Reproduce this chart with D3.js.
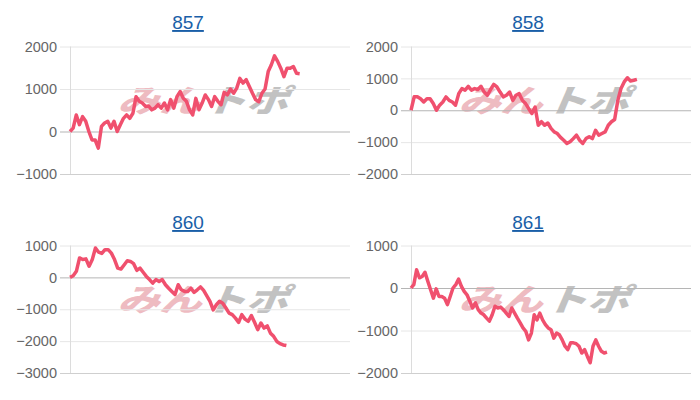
<!DOCTYPE html>
<html>
<head>
<meta charset="utf-8">
<script src="https://cdn.jsdelivr.net/npm/d3@7"></script>
<style>
  body { margin: 0; background: #fff; }
  svg { display: block; font-family: "Liberation Sans", Arial, sans-serif; }
</style>
</head>
<body>
<svg id="canvas" width="700" height="400"></svg>
<script>
"use strict";

const titles = ["857", "858", "860", "861"];

const data857 = [0,80,390,160,350,240,0,-200,-200,-390,
  120,200,240,80,240,0,160,310,390,310,
  430,820,710,670,590,600,510,550,630,550,
  670,510,750,550,820,940,780,710,510,390,
  780,510,670,860,750,590,820,710,630,920,
  860,1000,900,1020,1250,1140,1220,1060,900,750,
  700,900,1000,1410,1570,1780,1650,1490,1290,1490,
  1490,1530,1370,1360];

const data858 = [0,420,420,360,260,360,360,210,0,160,
  260,420,310,260,160,520,680,630,750,630,
  680,650,750,570,470,650,810,730,570,420,
  470,570,310,470,520,310,210,50,-100,100,
  -470,-360,-470,-400,-570,-680,-730,-850,-940,-1040,
  -990,-890,-780,-940,-1040,-890,-830,-890,-630,-780,
  -730,-680,-470,-360,-290,310,680,890,1020,920,
  940,970];

const data860 = [0,50,190,610,560,580,350,560,920,790,
  750,870,870,760,560,290,260,390,520,500,
  430,220,290,160,30,-70,-180,-70,-130,-70,
  -230,-340,-440,-540,-230,-390,-440,-440,-340,-470,
  -390,-300,-410,-580,-750,-1020,-860,-750,-810,-960,
  -1120,-1170,-1280,-1410,-1170,-1310,-1380,-1200,-1410,-1640,
  -1430,-1590,-1520,-1750,-1850,-2010,-2080,-2120,-2140];

const data861 = [0,80,430,240,270,370,160,-40,-240,-20,
  -200,-200,-240,-390,-200,0,80,210,40,-80,
  -160,-310,-470,-350,-510,-590,-630,-710,-780,-630,
  -430,-470,-450,-510,-590,-670,-470,-590,-710,-820,
  -940,-1020,-1220,-1060,-630,-750,-590,-750,-860,-940,
  -980,-1180,-1060,-1100,-1220,-1370,-1450,-1290,-1290,-1310,
  -1370,-1530,-1450,-1610,-1760,-1370,-1220,-1370,-1490,-1530,
  -1510];

// hidden x axis length (number of slots) for each chart
const xSlots = [89, 88, 88, 100];
const yMins = [-1000, -2000, -3000, -2000];
const yMaxs = [2000, 2000, 1000, 1000];

const series = [data857, data858, data860, data861];

const svg = d3.select("#canvas");

const panels = [
  { left: 70, top: 46.5, titleX: 188, titleY: 29 },
  { left: 411, top: 46.5, titleX: 528, titleY: 29 },
  { left: 70, top: 245.5, titleX: 188, titleY: 229 },
  { left: 411, top: 245.5, titleX: 528, titleY: 229 }
];
const plotW = 280, plotH = 127.5;

panels.forEach((p, i) => {
  const g = svg.append("g").attr("transform", `translate(${p.left},${p.top})`);

  const x = d3.scaleLinear().domain([0, xSlots[i]]).range([0, plotW]);
  const y = d3.scaleLinear().domain([yMins[i], yMaxs[i]]).range([plotH, 0]);
  const ticks = d3.range(yMins[i], yMaxs[i] + 1, 1000);

  // watermark logo
  const wm = g.append("g")
    .attr("transform", `translate(${plotW * 0.485},${plotH * 0.45}) scale(1.05,0.78) skewX(-18)`)
    .attr("opacity", 0.42);
  wm.append("text")
    .attr("x", -1).attr("y", 0)
    .attr("text-anchor", "end")
    .attr("dominant-baseline", "middle")
    .attr("font-size", 40).attr("font-weight", 900)
    .attr("font-family", "'Noto Sans CJK JP', sans-serif")
    .attr("fill", "#d8606e")
    .text("みん");
  wm.append("text")
    .attr("x", 1).attr("y", 0)
    .attr("text-anchor", "start")
    .attr("dominant-baseline", "middle")
    .attr("font-size", 40).attr("font-weight", 900)
    .attr("font-family", "'Noto Sans CJK JP', sans-serif")
    .attr("fill", "#707070")
    .text("トポ");

  // grid lines + axis
  const yAxis = d3.axisLeft(y).tickValues(ticks).tickSize(-plotW - 10).tickPadding(3)
    .tickFormat(d3.format("d"));
  const ax = g.append("g").attr("transform", "translate(-10,0)").call(yAxis);
  ax.select(".domain").remove();
  ax.selectAll(".tick line")
    .attr("x1", 0)
    .attr("x2", plotW + 10)
    .attr("stroke", d => d === 0 ? "#b5b5b5" : (d === yMins[i] ? "#cfcfcf" : "#e6e6e6"))
    .attr("stroke-width", 1);
  ax.selectAll(".tick text")
    .attr("fill", "#666")
    .attr("font-size", 14.5)
    .attr("font-family", "'Liberation Sans', Arial, sans-serif");

  g.append("line")
    .attr("x1", 0.5).attr("x2", 0.5)
    .attr("y1", y(yMaxs[i])).attr("y2", y(yMins[i]))
    .attr("stroke", "#dcdcdc");

  // series line
  const line = d3.line()
    .x((d, j) => x(j))
    .y(d => y(d));
  g.append("path")
    .datum(series[i])
    .attr("d", line)
    .attr("fill", "none")
    .attr("stroke", "#f0506e")
    .attr("stroke-width", 3.5)
    .attr("stroke-linejoin", "round");

  // title
  svg.append("text")
    .attr("x", p.titleX).attr("y", p.titleY)
    .attr("text-anchor", "middle")
    .attr("font-size", 19)
    .attr("fill", "#1a5fa8")
    .attr("text-decoration", "underline")
    .text(titles[i]);
});
</script>
</body>
</html>
